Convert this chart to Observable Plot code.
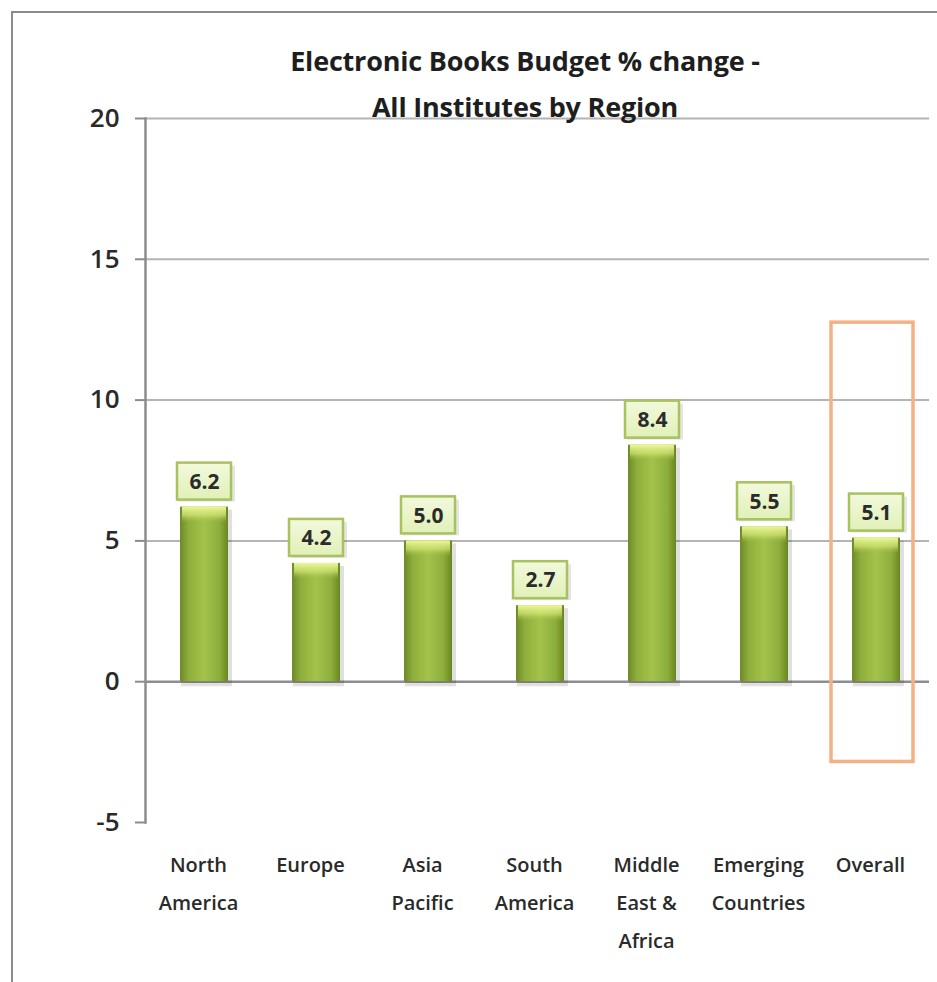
<!DOCTYPE html>
<html>
<head>
<meta charset="utf-8">
<script src="https://cdn.jsdelivr.net/npm/d3@7"></script>
<script src="https://cdn.jsdelivr.net/npm/@observablehq/plot@0.6"></script>
<style>
  html, body { margin: 0; padding: 0; background: #fff; }
  #wrap { position: relative; width: 937px; height: 982px; overflow: hidden; background: #fff; }
  #frame { position: absolute; left: 11px; top: 11px; width: 940px; height: 990px;
           border-top: 2px solid #8c8c8c; border-left: 2px solid #8c8c8c; box-sizing: border-box; }
  #title { position: absolute; left: 0; top: 38px; width: 1050px; text-align: center;
           font-family: "Open Sans", sans-serif; font-weight: bold; letter-spacing: -0.2px;
           font-size: 27px; line-height: 46px; color: #1e1e1e; z-index: 2; }
  #chart { position: absolute; left: 0; top: 0; }
</style>
</head>
<body>
<div id="wrap">
  <div id="frame"></div>
  <div id="chart"></div>
  <div id="title">Electronic Books Budget % change -<br>All Institutes by Region</div>
</div>
<script>
const regions = ["North America", "Europe", "Asia Pacific", "South America", "Middle East & Africa", "Emerging Countries", "Overall"];
const regionLabels = ["North\nAmerica", "Europe", "Asia\nPacific", "South\nAmerica", "Middle\nEast &\nAfrica", "Emerging\nCountries", "Overall"];
const values = [6.2, 4.2, 5.0, 2.7, 8.4, 5.5, 5.1];
const yTicks = [-5, 0, 5, 10, 15, 20];
const gridLines = [5, 10, 15, 20];
const highlightRegion = ["Overall"];
const highlightRange = [-2.85, 12.75];

const data = regions.map((r, i) => ({region: r, label: regionLabels[i], value: values[i]}));
const hl = highlightRegion.map(r => ({region: r, y1: highlightRange[0], y2: highlightRange[1]}));

const font = '"Open Sans", sans-serif';

const chart = Plot.plot({
  width: 937,
  height: 982,
  marginLeft: 145,
  marginRight: 8,
  marginTop: 118,
  marginBottom: 160,
  style: {fontFamily: font, background: "transparent", overflow: "visible"},
  x: {domain: regions, range: [148, 932], padding: 0, axis: null},
  y: {domain: [-5, 20], axis: null},
  marks: [
    Plot.ruleY(gridLines, {stroke: "#b4b4b4", strokeWidth: 2}),
    Plot.ruleY([0], {stroke: "#8e8e8e", strokeWidth: 2.5}),
    Plot.axisY({ticks: yTicks, tickSize: 10, tickPadding: 16, fontSize: 26, fontWeight: 600, stroke: "#8c8c8c", strokeWidth: 2, fill: "#2a2a2a", tickFormat: d => String(d)}),
    Plot.frame({anchor: "left", stroke: "#8c8c8c", strokeWidth: 2.5}),
    // bar shadow
    Plot.rectY(data, {x: "region", y1: 0, y2: "value", fill: "#000", fillOpacity: 0.12, insetLeft: 33, insetRight: 28, insetTop: 3, insetBottom: -5}),
    Plot.rectY(data, {x: "region", y1: 0, y2: "value", fill: "url(#barGrad)", insetLeft: 32, insetRight: 32}),
    // top highlight
    Plot.rectY(data, {x: "region", y1: "value", y2: "value", fill: "url(#topGrad)", insetLeft: 34, insetRight: 34, insetTop: 0, insetBottom: -16}),
    // label boxes
    Plot.rect(data, {x: "region", y1: "value", y2: "value", fill: "#000", fillOpacity: 0.1, insetLeft: 31, insetRight: 25, insetTop: -41, insetBottom: 5}),
    Plot.rect(data, {x: "region", y1: "value", y2: "value", fill: "url(#boxGrad)", stroke: "#a7c25e", strokeWidth: 2.5, insetLeft: 29, insetRight: 29, insetTop: -44, insetBottom: 7}),
    Plot.text(data, {x: "region", y: "value", text: d => d.value.toFixed(1), dy: -25, fontSize: 21, fontWeight: "bold", fill: "#2b2b2b"}),
    // highlight rectangle
    Plot.rect(hl, {x: "region", y1: "y1", y2: "y2", fill: "none", stroke: "#f4b184", strokeWidth: 3.5, insetLeft: 11, insetRight: 19}),
    // x labels
    Plot.text(data, {x: "region", text: "label", frameAnchor: "bottom", lineAnchor: "top", dy: 23, dx: -6, fontSize: 20, fontWeight: 600, lineHeight: 1.9, fill: "#2a2a2a"})
  ]
});

const defs = d3.create("svg:defs");
const g1 = defs.append("linearGradient").attr("id", "barGrad").attr("x1", "0").attr("x2", "1").attr("y1", "0").attr("y2", "0");
[["0%", "#6e8a25"], ["18%", "#8eae3c"], ["50%", "#a3c24b"], ["82%", "#8eae3c"], ["100%", "#6a8522"]].forEach(([o, c]) => g1.append("stop").attr("offset", o).attr("stop-color", c));
const g2 = defs.append("linearGradient").attr("id", "topGrad").attr("x1", "0").attr("x2", "0").attr("y1", "0").attr("y2", "1");
[["0%", "#eef79a", 1], ["55%", "#d2e674", 0.7], ["100%", "#a3c24b", 0]].forEach(([o, c, a]) => g2.append("stop").attr("offset", o).attr("stop-color", c).attr("stop-opacity", a));
const g3 = defs.append("linearGradient").attr("id", "boxGrad").attr("x1", "0").attr("x2", "0").attr("y1", "0").attr("y2", "1");
[["0%", "#f2f9dc"], ["100%", "#e1f0b8"]].forEach(([o, c]) => g3.append("stop").attr("offset", o).attr("stop-color", c));
chart.insertBefore(defs.node(), chart.firstChild);

document.getElementById("chart").appendChild(chart);
</script>
</body>
</html>
